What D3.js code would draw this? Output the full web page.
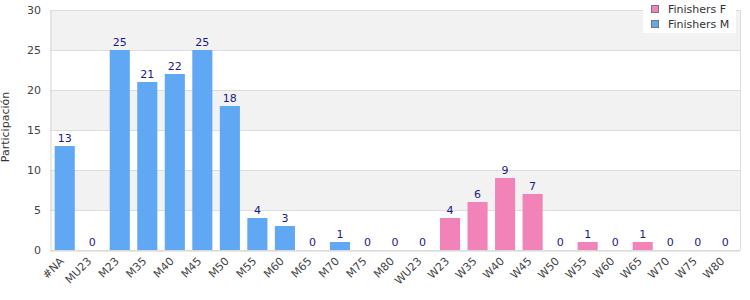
<!DOCTYPE html>
<html>
<head>
<meta charset="utf-8">
<script src="https://cdn.jsdelivr.net/npm/d3@7"></script>
<style>
body { margin: 0; background: #fff; }
svg { display: block; }
</style>
</head>
<body>
<div id="chart"></div>
<script>
var categories = ["#NA","MU23","M23","M35","M40","M45","M50","M55","M60","M65","M70","M75","M80",
  "WU23","W23","W35","W40","W45","W50","W55","W60","W65","W70","W75","W80"];
// null = category not in that series
var finishersM = [13,0,25,21,22,25,18,4,3,0,1,0,0, null,null,null,null,null,null,null,null,null,null,null,null];
var finishersF = [null,null,null,null,null,null,null,null,null,null,null,null,null, 0,4,6,9,7,0,1,0,1,0,0,0];
var yTicks = [0,5,10,15,20,25,30];
var seriesNames = ["Finishers F","Finishers M"];
var seriesColors = ["#f283b9","#60a8f3"];

var margin = {top: 10, right: 10, bottom: 50, left: 50},
width = 750 - margin.left - margin.right,
height = 300 - margin.top - margin.bottom;

var svg = d3.select("#chart")
  .append("svg")
  .attr("width", 750)
  .attr("height", 300)
  .append("g")
  .attr("transform", "translate(" + margin.left + "," + margin.top + ")");

var x = d3.scaleBand()
  .range([0, width])
  .domain(categories)
  .paddingInner(0.27)
  .paddingOuter(0.17);

var y = d3.scaleLinear()
  .domain([0, 30])
  .range([height, 0]);

// alternating bands
var bands = d3.range(yTicks.length - 1).map(function(i) { return [yTicks[i], yTicks[i+1]]; });
svg.selectAll("rect.band")
  .data(bands)
  .enter()
  .append("rect")
  .attr("class", "band")
  .attr("x", 0)
  .attr("width", width)
  .attr("y", function(d) { return y(d[1]); })
  .attr("height", function(d) { return y(d[0]) - y(d[1]); })
  .attr("fill", function(d, i) { return i % 2 ? "#f2f2f2" : "#ffffff"; });

// grid lines
svg.selectAll("line.grid")
  .data(yTicks)
  .enter()
  .append("line")
  .attr("class", "grid")
  .attr("x1", 0)
  .attr("x2", width)
  .attr("y1", function(d) { return y(d) + 0.5; })
  .attr("y2", function(d) { return y(d) + 0.5; })
  .attr("stroke", "#dddddd");

// border right
svg.append("line")
  .attr("x1", width + 0.5).attr("x2", width + 0.5)
  .attr("y1", 0).attr("y2", height)
  .attr("stroke", "#dddddd");

// Y axis
var yAxis = svg.append("g")
  .call(d3.axisLeft(y).tickValues(yTicks).tickSize(0).tickPadding(9));
yAxis.select(".domain").attr("stroke", "#d4d4d4").attr("transform", "translate(0.5,0)");
yAxis.selectAll("text")
  .style("font-family", "DejaVu Sans")
  .style("font-size", "11px")
  .attr("fill", "#444");

// X axis
var xAxis = svg.append("g")
  .attr("transform", "translate(0," + height + ")")
  .call(d3.axisBottom(x).tickSize(0).tickPadding(6));
xAxis.select(".domain").attr("stroke", "#d4d4d4").attr("transform", "translate(0,0.5)");
xAxis.selectAll("text")
  .style("font-family", "DejaVu Sans")
  .style("font-size", "11px")
  .attr("fill", "#444")
  .attr("transform", "translate(-9,3)rotate(-45)")
  .style("text-anchor", "end")
  .attr("dy", "0.6em");

// bars
var rows = categories.map(function(c, i) {
  var isF = finishersF[i] !== null;
  return {key: c, value: isF ? finishersF[i] : finishersM[i], color: isF ? seriesColors[0] : seriesColors[1]};
});

svg.selectAll("rect.bar")
  .data(rows)
  .enter()
  .append("rect")
  .attr("class", "bar")
  .attr("x", function(d) { return x(d.key); })
  .attr("width", x.bandwidth())
  .attr("y", function(d) { return y(d.value); })
  .attr("height", function(d) { return height - y(d.value); })
  .attr("fill", function(d) { return d.color; });

// value labels
svg.selectAll("text.val")
  .data(rows)
  .enter()
  .append("text")
  .attr("class", "val")
  .attr("x", function(d) { return x(d.key) + x.bandwidth() / 2; })
  .attr("y", function(d) { return y(d.value) - 4; })
  .attr("text-anchor", "middle")
  .style("font-family", "DejaVu Sans")
  .style("font-size", "11px")
  .attr("fill", "#1a1a88")
  .text(function(d) { return d.value; });

// y label
svg.append("text")
  .attr("transform", "rotate(-90)")
  .attr("x", -height / 2 + 3)
  .attr("y", -margin.left + 9)
  .style("text-anchor", "middle")
  .style("font-family", "DejaVu Sans")
  .style("font-size", "11px")
  .attr("fill", "#333")
  .text("Participación");

// legend
var legend = svg.append("g")
  .attr("transform", "translate(" + (width - 97) + "," + (-margin.top) + ")");
legend.append("rect")
  .attr("width", 93)
  .attr("height", 33)
  .attr("fill", "#fff");
var items = legend.selectAll("g.item")
  .data(seriesNames)
  .enter()
  .append("g")
  .attr("transform", function(d, i) { return "translate(8," + (5 + i * 15) + ")"; });
items.append("rect")
  .attr("x", 0.5).attr("y", 0.5)
  .attr("width", 7).attr("height", 7)
  .attr("fill", function(d, i) { return seriesColors[i]; })
  .attr("stroke", "#777");
items.append("text")
  .attr("x", 17)
  .attr("y", 8)
  .style("font-family", "DejaVu Sans")
  .style("font-size", "11px")
  .attr("fill", "#333")
  .text(function(d) { return d; });
</script>
</body>
</html>
